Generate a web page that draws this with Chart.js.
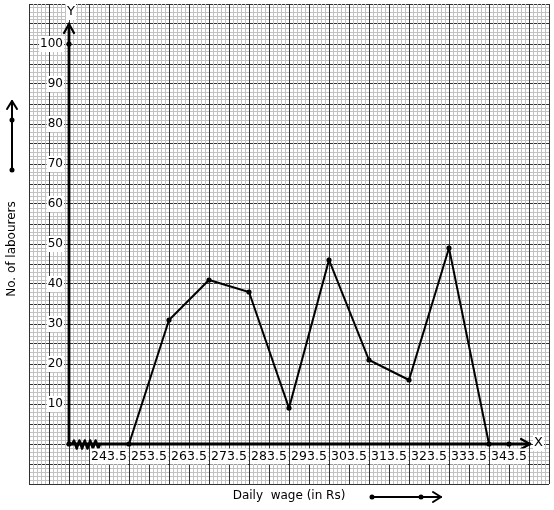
<!DOCTYPE html>
<html><head><meta charset="utf-8">
<script src="https://cdn.jsdelivr.net/npm/chart.js@4/dist/chart.umd.min.js"></script>
<style>html,body{margin:0;padding:0;background:#fff;overflow:hidden}</style>
</head><body>
<canvas id="c" width="554" height="510"></canvas>
<script>
// ---- data ----
const classMarks = [248.5, 258.5, 268.5, 278.5, 288.5, 298.5, 308.5, 318.5, 328.5, 338.5];
const labourers  = [0, 31, 41, 38, 9, 46, 21, 16, 49, 0];
const xTickLabels = ['243.5','253.5','263.5','273.5','283.5','293.5','303.5','313.5','323.5','333.5','343.5'];
const yTickLabels = [10, 20, 30, 40, 50, 60, 70, 80, 90, 100];
const markerX = [233.5, 233.5, 343.5];
const markerY = [0, 100, 0];
const originX = 233.5;
const xTitle = 'Daily  wage (in Rs)';
const yTitle = 'No. of labourers';

const X_MIN = 223.5, X_MAX = 353.5, Y_MIN = -10, Y_MAX = 110;
const DARK = '#333333', LIGHT = '#c2c2c2';
const FONT = '"DejaVu Sans", sans-serif';

function range(a, b) { const r = []; for (let v = a; v <= b + 1e-9; v++) r.push(v); return r; }

function labelBox(ctx, text, x, y, align) {
  const w = ctx.measureText(text).width;
  let left = align === 'right' ? x - w : (align === 'center' ? x - w / 2 : x);
  ctx.fillStyle = '#fff';
  ctx.fillRect(left - 1, y - 8, w + 2, 16);
  ctx.fillStyle = '#000';
  ctx.textAlign = align;
  ctx.textBaseline = 'middle';
  ctx.fillText(text, x, y);
}

function chevron(ctx, tx, ty, ax1, ay1, ax2, ay2) {
  ctx.beginPath();
  ctx.moveTo(ax1, ay1); ctx.lineTo(tx, ty); ctx.lineTo(ax2, ay2);
  ctx.stroke();
}
function dot(ctx, x, y) { ctx.beginPath(); ctx.arc(x, y, 2.5, 0, Math.PI * 2); ctx.fill(); }

const axesPlugin = {
  id: 'axesPlugin',
  beforeDatasetsDraw(chart) {
    const ctx = chart.ctx, xs = chart.scales.x, ys = chart.scales.y;
    const ox = xs.getPixelForValue(originX), oy = ys.getPixelForValue(0);
    const xTip = xs.getPixelForValue(348.75), yTip = ys.getPixelForValue(105);
    ctx.save();
    ctx.strokeStyle = '#000'; ctx.fillStyle = '#000';
    ctx.lineCap = 'round'; ctx.lineJoin = 'round';
    // axes
    ctx.lineWidth = 2.8;
    ctx.beginPath(); ctx.moveTo(ox, oy); ctx.lineTo(xTip, oy); ctx.stroke();
    ctx.beginPath(); ctx.moveTo(ox, oy); ctx.lineTo(ox, yTip); ctx.stroke();
    ctx.lineWidth = 2.2;
    chevron(ctx, xTip, oy, xTip - 9, oy - 5, xTip - 9, oy + 5);
    chevron(ctx, ox, yTip, ox - 5, yTip + 9, ox + 5, yTip + 9);
    // kink (broken axis)
    ctx.lineWidth = 2.4;
    ctx.beginPath();
    ctx.moveTo(ox + 3, oy);
    for (let i = 0; i < 10; i++) ctx.lineTo(ox + 5 + i * 2.7, oy + (i % 2 ? 4.5 : -3.5));
    ctx.lineTo(ox + 31, oy);
    ctx.stroke();
    // tick labels
    ctx.font = '12.5px ' + FONT;
    xTickLabels.forEach(t => labelBox(ctx, t, xs.getPixelForValue(parseFloat(t)), oy + 12.5, 'center'));
    ctx.font = '12px ' + FONT;
    yTickLabels.forEach(v => labelBox(ctx, String(v), ox - 6, ys.getPixelForValue(v), 'right'));
    ctx.font = '13px ' + FONT;
    labelBox(ctx, 'Y', ox + 2, yTip - 12, 'center');
    labelBox(ctx, 'X', xTip + 8.5, oy - 1, 'center');
    // titles
    ctx.fillStyle = '#000';
    ctx.font = '12px ' + FONT;
    ctx.textAlign = 'center'; ctx.textBaseline = 'middle';
    ctx.fillText(xTitle, 289, 496);
    ctx.save(); ctx.translate(12, 249); ctx.rotate(-Math.PI / 2); ctx.fillText(yTitle, 0, 0); ctx.restore();
    // direction arrows next to titles
    ctx.lineWidth = 2;
    ctx.beginPath(); ctx.moveTo(12, 170); ctx.lineTo(12, 101); ctx.stroke();
    chevron(ctx, 12, 101, 7, 109, 17, 109);
    dot(ctx, 12, 120); dot(ctx, 12, 170);
    ctx.beginPath(); ctx.moveTo(372, 497); ctx.lineTo(441, 497); ctx.stroke();
    chevron(ctx, 441, 497, 433, 492, 433, 502);
    dot(ctx, 372, 497); dot(ctx, 421, 497);
    ctx.restore();
  }
};

const gridOpts = (isMajor) => ({
  color: ctx => isMajor(ctx.tick.value) ? DARK : LIGHT,
  lineWidth: 1,
  drawTicks: false
});

new Chart(document.getElementById('c'), {
  data: {
    datasets: [
      {
        type: 'line',
        data: classMarks.map((x, i) => ({ x, y: labourers[i] })),
        borderColor: '#000', borderWidth: 2,
        pointRadius: 2.6, pointBackgroundColor: '#000', pointBorderColor: '#000', pointBorderWidth: 0,
        tension: 0, fill: false
      },
      {
        type: 'scatter',
        data: markerX.map((x, i) => ({ x, y: markerY[i] })),
        pointRadius: 2.6, pointBackgroundColor: '#000', pointBorderColor: '#000', pointBorderWidth: 0,
        showLine: false
      }
    ]
  },
  options: {
    responsive: false,
    animation: false,
    devicePixelRatio: 1,
    layout: { padding: { left: 29, top: 4, right: 5, bottom: 26 }, autoPadding: false },
    plugins: { legend: { display: false }, tooltip: { enabled: false } },
    scales: {
      y: {
        type: 'linear', min: Y_MIN, max: Y_MAX,
        afterBuildTicks: s => { s.ticks = range(Y_MIN, Y_MAX).map(v => ({ value: v })); },
        ticks: { display: false },
        border: { display: false },
        grid: gridOpts(v => Math.round(v) % 5 === 0)
      },
      x: {
        type: 'linear', min: X_MIN, max: X_MAX,
        afterBuildTicks: s => { s.ticks = range(X_MIN, X_MAX).map(v => ({ value: v })); },
        ticks: { display: false },
        border: { display: false },
        grid: gridOpts(v => Math.round(v - X_MIN) % 5 === 0)
      }
    }
  },
  plugins: [axesPlugin]
});
</script>
</body></html>
